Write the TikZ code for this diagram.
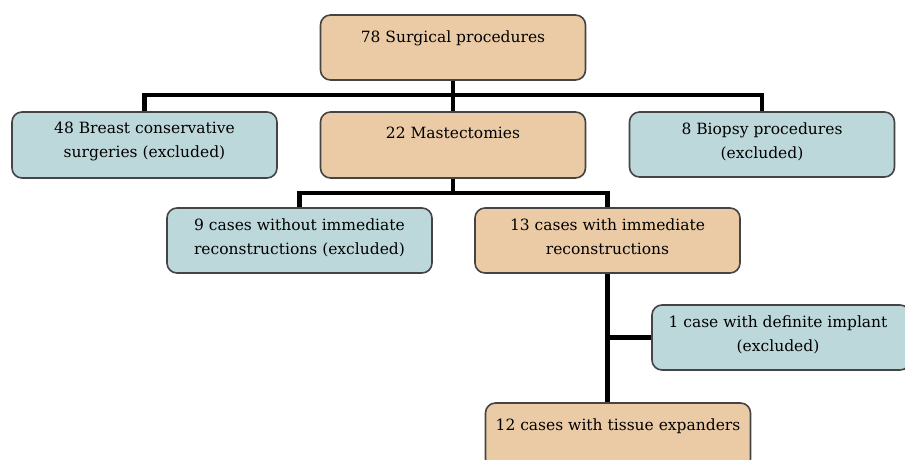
\documentclass[tikz,border=0pt]{standalone}
\usepackage{fontspec}
\setmainfont{DejaVu Serif}
\newfontfamily\boxfont{DejaVu Serif}
\definecolor{tan}{HTML}{EBCBA6}
\definecolor{bluegray}{HTML}{BDD8DB}
\definecolor{edge}{HTML}{444444}
\begin{document}
\begin{tikzpicture}[x=1pt,y=-1pt,
  box/.style={draw=edge,line width=1.6pt,rounded corners=10pt,inner sep=0pt,minimum width=#1},
  tanbox/.style={box=265pt,fill=tan},
  bluebox/.style={box=265pt,fill=bluegray},
  lbl/.style={anchor=north,align=center,font=\boxfont\fontsize{15.5}{24}\selectfont,inner sep=0pt},
  conn/.style={line width=4.5pt,black}]
\useasboundingbox (0,0) rectangle (905,460);
\clip (0,0) rectangle (905,460);
\fill[white] (0,0) rectangle (905,460);
\node[tanbox,minimum height=65pt] (top) at (453,47.5) {};
\node[bluebox,minimum height=66pt] (bcs) at (144.5,145) {};
\node[tanbox,minimum height=66pt] (mast) at (453,145) {};
\node[bluebox,minimum height=65pt] (bio) at (762,144.5) {};
\node[bluebox,minimum height=65pt] (wo) at (299.5,240.5) {};
\node[tanbox,minimum height=65pt] (with) at (607.5,240.5) {};
\node[box=258pt,fill=bluegray,minimum height=65pt] (imp) at (781,337.5) {};
\node[tanbox,minimum height=66pt] (exp) at (618,436) {};
\node[lbl] (ttop) at ([yshift=-16pt]top.north) {78 Surgical procedures};
\node[lbl] (tbcs) at ([yshift=-11pt]bcs.north) {48 Breast conservative\\surgeries (excluded)};
\node[lbl] (tmast) at ([yshift=-16pt]mast.north) {22 Mastectomies};
\node[lbl] (tbio) at ([yshift=-11pt]bio.north) {8 Biopsy procedures\\(excluded)};
\node[lbl] (two) at ([yshift=-11pt]wo.north) {9 cases without immediate\\reconstructions (excluded)};
\node[lbl] (twith) at ([yshift=-11pt]with.north) {13 cases with immediate\\reconstructions};
\node[lbl] (timp) at ([xshift=-3pt,yshift=-11pt]imp.north) {1 case with definite implant\\(excluded)};
\node[lbl] (texp) at ([yshift=-16pt]exp.north) {12 cases with tissue expanders};
\draw[conn] (top.south) -- (mast.north);
\draw[conn] (bcs.north) -- ++(0,-16) -| (bio.north);
\draw[conn] (mast.south) -- ++(0,14) coordinate (m1);
\draw[conn] (wo.north) |- (m1) -| (with.north);
\draw[conn] (with.south) -- (with.south |- exp.north);
\draw[conn] (imp.west) -- (imp.west -| with.south);
\end{tikzpicture}
\end{document}
